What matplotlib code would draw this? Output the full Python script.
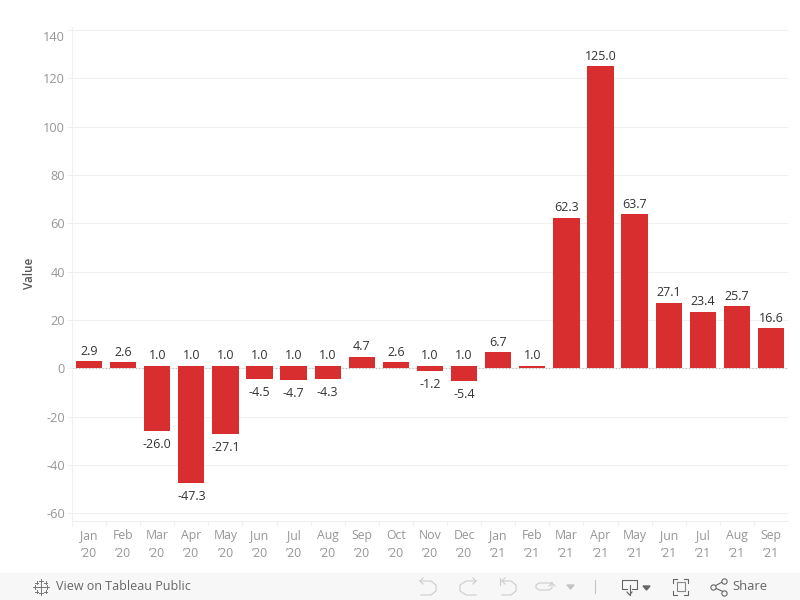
import matplotlib
matplotlib.use("Agg")
import matplotlib.pyplot as plt
from matplotlib.lines import Line2D
from matplotlib.patches import Rectangle, Polygon
from matplotlib.transforms import ScaledTranslation

plt.rcParams['font.family'] = ['Open Sans', 'DejaVu Sans']

months = ["Jan", "Feb", "Mar", "Apr", "May", "Jun", "Jul", "Aug", "Sep", "Oct", "Nov", "Dec",
          "Jan", "Feb", "Mar", "Apr", "May", "Jun", "Jul", "Aug", "Sep"]
years = ["’20"] * 12 + ["’21"] * 9
upper = [2.9, 2.6, 1.0, 1.0, 1.0, 1.0, 1.0, 1.0, 4.7, 2.6, 1.0, 1.0,
         6.7, 1.0, 62.3, 125.0, 63.7, 27.1, 23.4, 25.7, 16.6]
lower = [0, 0, -26.0, -47.3, -27.1, -4.5, -4.7, -4.3, 0, 0, -1.2, -5.4,
         0, 0, 0, 0, 0, 0, 0, 0, 0]
yticks = [-60, -40, -20, 0, 20, 40, 60, 80, 100, 120, 140]

W, H = 800, 600
fig = plt.figure(figsize=(8, 6), dpi=100, facecolor="white")
L, R, T, B = 72, 788, 27, 521
ax = fig.add_axes([L / W, 1 - B / H, (R - L) / W, (B - T) / H])

RED = "#d82e2f"
xs = list(range(len(months)))
ax.bar(xs, [u - l for u, l in zip(upper, lower)], bottom=lower, width=0.77, color=RED, zorder=3)

for x, u, l in zip(xs, upper, lower):
    ax.annotate(f"{u:.1f}", (x, u), xytext=(0, 2.5), textcoords="offset points",
                ha="center", va="bottom", fontsize=9, color="#333333", zorder=4)
    if l < 0:
        ax.annotate(f"{l:.1f}", (x, l), xytext=(0, -5), textcoords="offset points",
                    ha="center", va="top", fontsize=9, color="#333333", zorder=4)

ax.set_xlim(-0.5, len(months) - 0.5)
ax.set_ylim(-63.15, 141.15)
ax.set_yticks(yticks)
ax.set_yticklabels([str(v) for v in yticks])
ax.tick_params(axis="y", length=3.6, width=0.8, color="#f0f0f0", labelcolor="#969696",
               labelsize=9.2, pad=1.5)
# The top label sits below its gridline, as it is kept inside the pane
top_label = ax.get_yticklabels()[-1]
top_label.set_transform(top_label.get_transform() + ScaledTranslation(0, -6.5 / 100, fig.dpi_scale_trans))
ax.set_xticks(xs)
ax.set_xticklabels([f"{m}\n{y}" for m, y in zip(months, years)], linespacing=1.45)
ax.tick_params(axis="x", length=0, labelcolor="#969696", labelsize=8.8, pad=6)
ax.set_xticks([x - 0.5 for x in xs], minor=True)
ax.tick_params(axis="x", which="minor", length=3.6, width=0.8, color="#f0f0f0")
ax.grid(axis="y", color="#f0f0f0", linewidth=0.8, zorder=0)
ax.axhline(0, color="#b8b8b8", linewidth=0.8, linestyle=(0, (1, 2)), zorder=2)
for s in ("top", "right"):
    ax.spines[s].set_visible(False)
for s in ("left", "bottom"):
    ax.spines[s].set_color("#f0f0f0")
    ax.spines[s].set_linewidth(0.8)
ax.set_ylabel("Value", fontsize=8.4, color="#555555", fontweight="semibold", labelpad=0)
ax.yaxis.set_label_coords((36 - L) / (R - L), (B - 273) / (B - T))

# Toolbar chrome, in pixel coordinates
def pt(x, y):
    return (x / W, 1 - y / H)
fig.add_artist(Rectangle(pt(0, 600), 1, 27 / H, transform=fig.transFigure, color="#f7f7f7", zorder=0))
def line(xs_, ys_, c="#777777", lw=0.8):
    fig.add_artist(Line2D([x / W for x in xs_], [1 - y / H for y in ys_], color=c, lw=lw,
                          transform=fig.transFigure))
fig.text(56 / W, 1 - 586.5 / H, "View on Tableau Public", fontsize=9, color="#666666", va="center")
fig.text(732 / W, 1 - 586.5 / H, "Share", fontsize=9.4, color="#666666", va="center")
# Tableau logo
for cx, cy, r in [(41, 587, 3.5), (35, 587, 2), (47, 587, 2), (41, 581, 2), (41, 593, 2),
                  (36.5, 582.5, 1.5), (45.5, 582.5, 1.5), (36.5, 591.5, 1.5), (45.5, 591.5, 1.5)]:
    line([cx - r, cx + r], [cy, cy], "#777777", 0.7)
    line([cx, cx], [cy - r, cy + r], "#777777", 0.7)
# Undo / redo group
G = "#cccccc"
line([420, 431, 436, 436, 431, 421], [581, 581, 585, 591, 595, 595], G)
line([423, 420, 423], [578, 581, 584], G)
line([476, 466, 460, 460, 466, 476], [581, 581, 585, 591, 595, 595], G)
line([473, 476, 473], [578, 581, 584], G)
line([500, 500], [578, 585], G)
line([502, 511, 516, 516, 511, 502], [581, 581, 585, 591, 595, 595], G)
line([505, 502, 505], [578, 581, 584], G)
line([552, 539, 536, 536, 539, 549, 552, 552], [583, 583, 585, 588, 590, 590, 588, 583], G)
line([549, 552, 555], [586, 583, 586], G)
fig.add_artist(Polygon([pt(567, 585), pt(574, 585), pt(570.5, 589)], transform=fig.transFigure, color="#c4c4c4"))
line([595, 595], [580, 593], "#c4c4c4")
# Download
D = "#666666"
line([627, 622, 622, 637, 637, 632], [589, 589, 580, 580, 589, 589], D)
line([629.5, 629.5], [585, 595], D)
line([627, 629.5, 632], [592, 595, 592], D)
fig.add_artist(Polygon([pt(643, 586), pt(650, 586), pt(646.5, 590)], transform=fig.transFigure, color=D))
# Fullscreen
line([677, 685, 685, 677, 677], [582, 582, 591, 591, 582], "#888888")
line([673, 673, 677], [583, 579, 579], D)
line([684, 688, 688], [579, 579, 583], D)
line([673, 673, 677], [591, 595, 595], D)
line([684, 688, 688], [595, 595, 591], D)
# Share icon
line([724, 713, 724], [581, 587, 592], D)
for cx, cy in [(724, 581), (713, 587), (724, 592.5)]:
    fig.add_artist(Line2D([cx / W], [1 - cy / H], marker="o", ms=3.8, mfc="#f7f7f7", mec=D,
                          mew=0.8, transform=fig.transFigure))

fig.savefig("out.png", dpi=100)
